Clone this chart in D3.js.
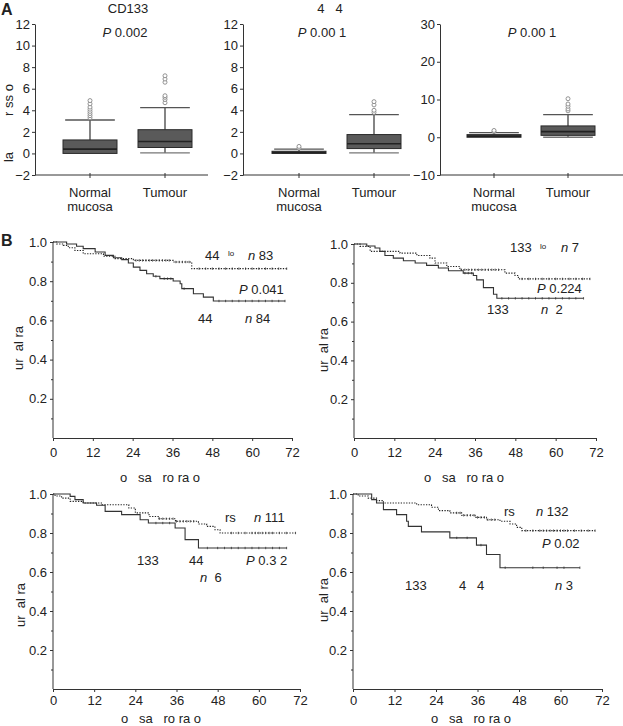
<!DOCTYPE html>
<html><head><meta charset="utf-8">
<script src="https://cdn.jsdelivr.net/npm/d3@7/dist/d3.min.js"></script>
<style>
body{margin:0;background:#fff;}
svg text{font-family:"Liberation Sans",Arial,sans-serif;fill:#222;}
</style></head>
<body><svg id="c" width="623" height="726"></svg>
<script>
// ---------- Panel A data: [lower whisker, Q1, median, Q3, upper whisker] ----------
const boxCategories = ["Normal mucosa", "Tumour"];
const boxTitles = ["CD133", "4   4", ""];
const boxPValues = ["0.002", "0.00 1", "0.00 1"];
const cd133Normal = [0, 0, 0.4, 1.25, 3.1];
const cd133NormalOut = [3.3, 3.5, 3.7, 3.9, 4.1, 4.3, 4.6, 4.9];
const cd133Tumour = [0.05, 0.55, 1.1, 2.2, 4.25];
const cd133TumourOut = [4.7, 5.0, 5.2, 5.35, 6.6, 6.9, 7.2];
const cd44Normal = [0, 0, 0.08, 0.2, 0.4];
const cd44NormalOut = [0.5, 0.65];
const cd44Tumour = [0.05, 0.45, 0.9, 1.75, 3.6];
const cd44TumourOut = [3.8, 4.0, 4.5, 4.8];
const thirdNormal = [0, 0, 0.3, 0.7, 1.2];
const thirdNormalOut = [1.5, 1.8];
const thirdTumour = [0, 0.5, 1.5, 3.0, 6.0];
const thirdTumourOut = [7.0, 7.5, 8.2, 8.8, 10.2];
const ticksA12 = [-2, 0, 2, 4, 6, 8, 10, 12];
const ticksA30 = [-10, 0, 10, 20, 30];

// ---------- Panel B data: Kaplan-Meier steps [month, survival] ----------
const kmMonthTicks = [0, 12, 24, 36, 48, 60, 72];
const kmSurvTicks = [0.2, 0.4, 0.6, 0.8, 1.0];
const kmMinorTicks = [0.1, 0.3, 0.5, 0.7, 0.9];

const b1High = [[0,1],[4.1,0.99],[7.1,0.978],[9.1,0.966],[12.7,0.949],[15.7,0.932],[18.2,0.92],[20.7,0.91],[22.7,0.893],[24.2,0.872],[26.2,0.855],[28.2,0.838],[30.2,0.825],[32.2,0.813],[36.2,0.801],[38.3,0.787],[38.8,0.762],[42.3,0.736],[45.3,0.719],[48.3,0.699],[69.9,0.699]];
const b1HighCens = [31,33.5,34.5,35.5,39.5,50,52,54,56,58,60,62,64,66,68,69.9];
const b1Low = [[0,1],[1.1,0.99],[3.1,0.983],[4.6,0.971],[6.6,0.957],[9.1,0.94],[15.2,0.927],[18.7,0.915],[24.2,0.906],[36.2,0.898],[41.8,0.864],[70.4,0.864]];
const b1LowCens = [25,26,27,28,29,30,31,32,33,34,35,37,38,39,40,41,44,46,48,50,52,54,56,58,60,62,64,66,68,70.4];

const b2High = [[0,1],[3.8,0.99],[6.25,0.979],[7.7,0.962],[9.2,0.941],[11.7,0.927],[14.7,0.914],[18.2,0.902],[21.6,0.89],[25.1,0.876],[28.1,0.862],[32.5,0.85],[35.5,0.838],[36.5,0.815],[38.5,0.775],[41.5,0.741],[42.5,0.72],[68.3,0.72]];
const b2HighCens = [33,34,35,44,46,48,50,52,54,56,58,60,62,64,66,68.3];
const b2Low = [[0,1],[1.8,0.988],[4.8,0.962],[13.7,0.953],[18.7,0.941],[22.6,0.927],[24.1,0.902],[27.6,0.884],[31.5,0.867],[44.9,0.85],[47.9,0.838],[48.9,0.82],[70.2,0.82]];
const b2LowCens = [32,33,34,35,36,37,38,39,40,41,42,43,50,52,54,56,58,60,62,64,66,68,70.2];

const b3High = [[0,1],[5,0.988],[6.4,0.971],[8.8,0.954],[12.7,0.942],[15.2,0.911],[20,0.894],[25.4,0.868],[27.8,0.851],[35.6,0.826],[38.5,0.766],[42.4,0.723],[68.1,0.723]];
const b3HighCens = [30,32,34,45,48,50,52,54,56,58,60,62,64,66,68.1];
const b3Low = [[0,1],[0.6,0.99],[2.5,0.979],[5,0.962],[8.8,0.954],[14.3,0.945],[22.1,0.928],[24,0.903],[28,0.885],[30.9,0.873],[35.7,0.86],[42.4,0.846],[44.8,0.834],[47.2,0.817],[48.7,0.8],[70.7,0.8]];
const b3LowCens = [31,32,33,34,35,36,37,38,39,40,41,52,54,56,58,59,60,61,62,63,64,66,68,70.7];

const b4High = [[0,1],[5.4,0.971],[6.8,0.954],[8.8,0.92],[12.6,0.894],[15.5,0.86],[16,0.834],[19.8,0.806],[28,0.775],[35.7,0.738],[38.6,0.69],[42.5,0.622],[65.6,0.622]];
const b4HighCens = [30,33,37,44,52,55,59,61,65.6];
const b4Low = [[0,1],[1.5,0.99],[4.4,0.979],[6.8,0.966],[8.8,0.954],[18.4,0.945],[22.7,0.932],[24.7,0.915],[28,0.903],[31.4,0.891],[35.3,0.88],[38.6,0.868],[42.5,0.86],[45.4,0.846],[47.3,0.829],[48.8,0.812],[70,0.812]];
const b4LowCens = [30,31,32,33,34,35,36,37,38,39,40,41,50,52,54,55,56,57,58,59,60,61,62,64,66,68,70];

// ---------- drawing ----------
const svg = d3.select("#c");
const FS = 13;
function styleAxis(g){
  g.selectAll("path,line").attr("stroke","#333").attr("stroke-width",1);
  g.selectAll("text").attr("font-size",FS).attr("fill","#222").attr("font-family","Liberation Sans, Arial, sans-serif");
}

// Panel A
svg.append("text").attr("x",1).attr("y",15).attr("font-size",16).attr("font-weight","bold").text("A");
const aPlots = [
  {x0:35, xEnd:208, dom:[-2,12], ticks:ticksA12, data:[cd133Normal,cd133Tumour], out:[cd133NormalOut,cd133TumourOut], c:[55,130], px:125, tx:128},
  {x0:243, xEnd:410, dom:[-2,12], ticks:ticksA12, data:[cd44Normal,cd44Tumour], out:[cd44NormalOut,cd44TumourOut], c:[56,131], px:322, tx:330},
  {x0:440, xEnd:623, dom:[-10,30], ticks:ticksA30, data:[thirdNormal,thirdTumour], out:[thirdNormalOut,thirdTumourOut], c:[54,128], px:532, tx:0}
];
aPlots.forEach((p,i)=>{
  const y = d3.scaleLinear().domain(p.dom).range([175,24]);
  const x = d3.scalePoint().domain(boxCategories).range([p.x0+p.c[0], p.x0+p.c[1]]);
  const gy = svg.append("g").attr("transform",`translate(${p.x0},0)`)
    .call(d3.axisLeft(y).tickValues(p.ticks).tickSize(3).tickSizeOuter(0).tickPadding(2).tickFormat(d=>d<0?"\u2212"+Math.abs(d):d));
  styleAxis(gy);
  const gx = svg.append("g").attr("transform",`translate(0,175)`);
  gx.append("line").attr("x1",p.x0).attr("x2",p.xEnd).attr("stroke","#333");
  boxCategories.forEach(c=>{
    gx.append("line").attr("x1",x(c)).attr("x2",x(c)).attr("y1",-2).attr("y2",3).attr("stroke","#333");
  });
  const bw = 54;
  p.data.forEach((d,j)=>{
    const cx = x(boxCategories[j]);
    const g = svg.append("g");
    g.append("line").attr("x1",cx).attr("x2",cx).attr("y1",y(d[3])).attr("y2",y(d[4])).attr("stroke","#333").attr("stroke-width",1.2);
    g.append("line").attr("x1",cx).attr("x2",cx).attr("y1",y(d[0])).attr("y2",y(d[1])).attr("stroke","#333").attr("stroke-width",1.2);
    g.append("line").attr("x1",cx-bw*0.46).attr("x2",cx+bw*0.46).attr("y1",y(d[4])).attr("y2",y(d[4])).attr("stroke","#555").attr("stroke-width",1.3);
    if(d[0]<d[1]) g.append("line").attr("x1",cx-bw*0.46).attr("x2",cx+bw*0.46).attr("y1",y(d[0])).attr("y2",y(d[0])).attr("stroke","#777").attr("stroke-width",1.3);
    g.append("rect").attr("x",cx-bw/2).attr("width",bw).attr("y",y(d[3])).attr("height",Math.max(1.5,y(d[1])-y(d[3])))
      .attr("fill","#5a5a5a").attr("stroke","#2a2a2a").attr("stroke-width",1);
    g.append("line").attr("x1",cx-bw/2).attr("x2",cx+bw/2).attr("y1",y(d[2])).attr("y2",y(d[2])).attr("stroke","#222").attr("stroke-width",1.6);
    p.out[j].forEach(o=>{
      g.append("circle").attr("cx",cx).attr("cy",y(o)).attr("r",2).attr("fill","#fff").attr("stroke","#888").attr("stroke-width",0.9);
    });
    const lab = svg.append("text").attr("x",cx).attr("text-anchor","middle").attr("font-size",FS);
    if(j===0){
      lab.attr("y",197).text("Normal");
      svg.append("text").attr("x",cx).attr("y",211).attr("text-anchor","middle").attr("font-size",FS).text("mucosa");
    } else lab.attr("y",197).text("Tumour");
  });
  if(boxTitles[i]) svg.append("text").attr("x",p.tx).attr("y",13).attr("text-anchor","middle").attr("font-size",FS).style("white-space","pre").text(boxTitles[i]);
  const pt = svg.append("text").attr("x",p.px).attr("y",37).attr("text-anchor","middle").attr("font-size",FS).style("white-space","pre");
  pt.append("tspan").attr("font-style","italic").text("P");
  pt.append("tspan").text(" "+boxPValues[i]);
});
svg.append("text").attr("transform","translate(13,100) rotate(-90)").attr("text-anchor","middle").attr("font-size",FS).style("white-space","pre").text("r ss o");
svg.append("text").attr("transform","translate(13,157) rotate(-90)").attr("text-anchor","middle").attr("font-size",FS).text("la");

// Panel B
svg.append("text").attr("x",1).attr("y",246).attr("font-size",16).attr("font-weight","bold").text("B");
const kmPlots = [
  {x0:53, x72:292, y0:438, y1:242, hi:b1High, hiC:b1HighCens, lo:b1Low, loC:b1LowCens, ylx:23, yly:348, xlx:160, xly:482, tly:457},
  {x0:354, x72:596, y0:438, y1:244, hi:b2High, hiC:b2HighCens, lo:b2Low, loC:b2LowCens, ylx:328, yly:350, xlx:464, xly:482, tly:457},
  {x0:53, x72:300, y0:689, y1:494, hi:b3High, hiC:b3HighCens, lo:b3Low, loC:b3LowCens, ylx:25, yly:605, xlx:161, xly:723, tly:705},
  {x0:353, x72:602, y0:689, y1:494, hi:b4High, hiC:b4HighCens, lo:b4Low, loC:b4LowCens, ylx:328, yly:600, xlx:471, xly:723, tly:705}
];
function survAt(steps,t){
  let v = steps[0][1];
  for(const s of steps){ if(s[0]<=t) v=s[1]; }
  return v;
}
kmPlots.forEach(p=>{
  const x = d3.scaleLinear().domain([0,72]).range([p.x0,p.x72]);
  const y = d3.scaleLinear().domain([0,1]).range([p.y0,p.y1]);
  const gy = svg.append("g").attr("transform",`translate(${p.x0},0)`)
    .call(d3.axisLeft(y).tickValues(kmSurvTicks).tickSize(3).tickSizeOuter(0).tickPadding(3).tickFormat(d3.format(".1f")));
  gy.select(".domain").attr("d",`M0,${p.y0}V${p.y1}`);
  styleAxis(gy);
  const gm = svg.append("g").attr("transform",`translate(${p.x0},0)`)
    .call(d3.axisLeft(y).tickValues(kmMinorTicks).tickSize(2).tickFormat(""));
  gm.select(".domain").remove();
  styleAxis(gm);
  const gx = svg.append("g").attr("transform",`translate(0,${p.y0})`)
    .call(d3.axisBottom(x).tickValues(kmMonthTicks).tickSize(3).tickSizeOuter(0).tickPadding(4));
  styleAxis(gx);
  gx.selectAll("text").attr("dy",null).attr("y",p.tly-p.y0);
  const line = d3.line().x(d=>x(d[0])).y(d=>y(d[1])).curve(d3.curveStepAfter);
  svg.append("path").datum(p.lo).attr("d",line).attr("fill","none").attr("stroke","#222").attr("stroke-width",1.1).attr("stroke-dasharray","1.3,1.4");
  svg.append("path").datum(p.hi).attr("d",line).attr("fill","none").attr("stroke","#333").attr("stroke-width",1.1);
  const cens = (steps,list)=>list.forEach(t=>{ const yy=y(survAt(steps,t)); svg.append("line").attr("x1",x(t)).attr("x2",x(t)).attr("y1",yy-1.2).attr("y2",yy+1.2).attr("stroke","#333").attr("stroke-width",0.8); });
  cens(p.lo,p.loC); cens(p.hi,p.hiC);
  svg.append("text").attr("transform",`translate(${p.ylx},${p.yly}) rotate(-90)`).attr("text-anchor","middle").attr("font-size",FS).style("white-space","pre").text("ur  al ra");
  svg.append("text").attr("x",p.xlx).attr("y",p.xly).attr("text-anchor","middle").attr("font-size",FS).style("white-space","pre").text("o   sa   ro ra o");
});

// annotations
function ann(x,y,parts,size){
  const t = svg.append("text").attr("x",x).attr("y",y).attr("font-size",size||FS).style("white-space","pre");
  parts.forEach(pt=>{
    const s = t.append("tspan").text(pt[0]);
    if(pt[1]==="i") s.attr("font-style","italic");
  });
}
// B1
ann(205,260,[["44"]]); ann(228,256,[["lo"]],8);
ann(248,260,[["n","i"],[" 83"]]);
ann(239,294,[["P","i"],[" 0.041"]]);
ann(198,323,[["44"]]); ann(245,323,[["n","i"],[" 84"]]);
// B2
ann(510,252,[["133"]]); ann(540,249,[["lo"]],8);
ann(561,252,[["n","i"],[" 7"]]);
ann(537,293,[["P","i"],[" 0.224"]]);
ann(487,314,[["133"]]); ann(541,314,[["n","i"],["  2"]]);
// B3
ann(225,522,[["rs"]]); ann(254,522,[["n","i"],[" 111"]]);
ann(137,565,[["133"]]); ann(189,565,[["44"]]); ann(246,565,[["P","i"],[" 0.3 2"]]);
ann(200,582,[["n","i"],["  6"]]);
// B4
ann(504,516,[["rs"]]); ann(536,516,[["n","i"],[" 132"]]);
ann(542,548,[["P","i"],[" 0.02"]]);
ann(405,590,[["133"]]); ann(459,590,[["4"]]); ann(477,590,[["4"]]); ann(555,590,[["n","i"],[" 3"]]);
</script></body></html>
